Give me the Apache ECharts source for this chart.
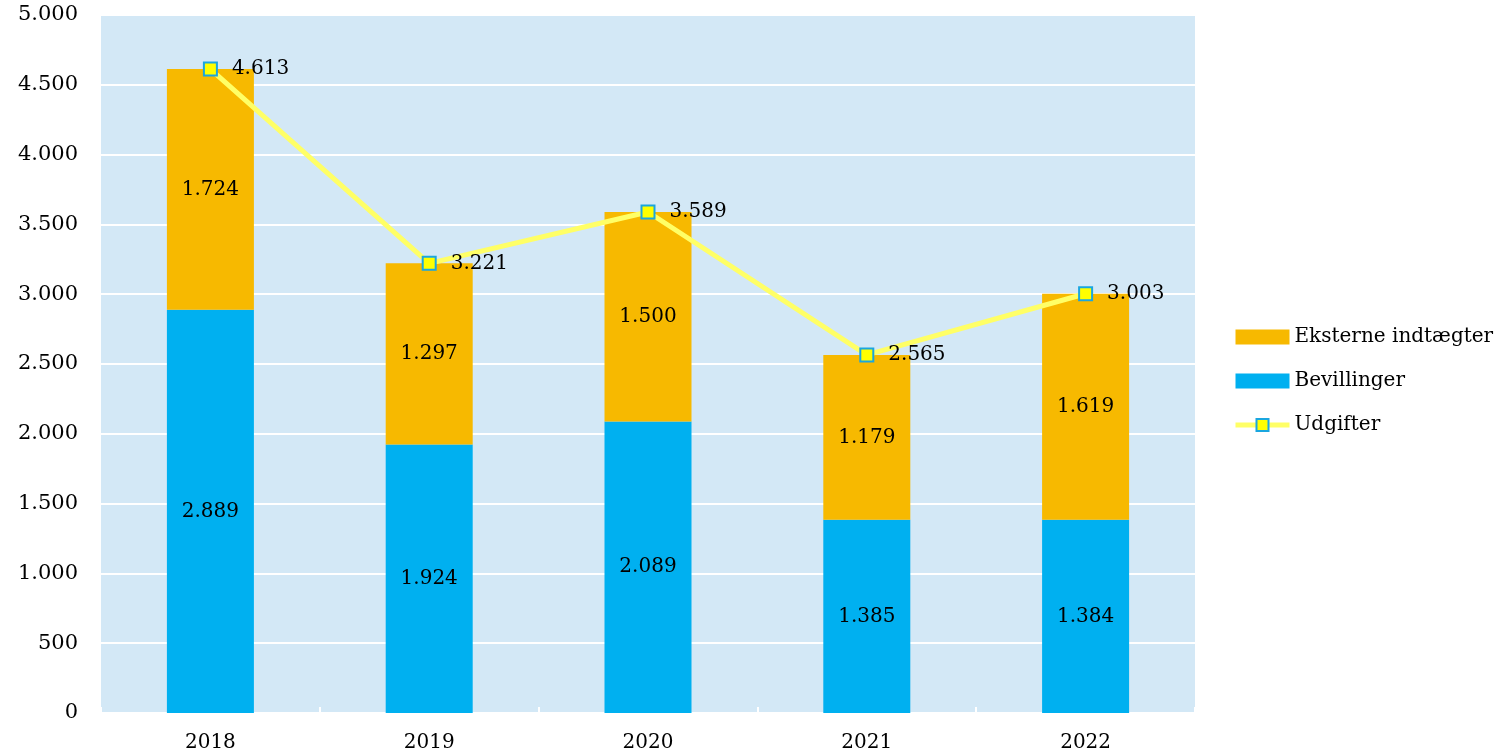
<!DOCTYPE html>
<html>
<head>
<meta charset="utf-8">
<script src="https://cdn.jsdelivr.net/npm/echarts@6/dist/echarts.min.js"></script>
<style>
  html, body { margin: 0; padding: 0; background: #fff; }
  #chart { width: 1503px; height: 753px; }
</style>
</head>
<body>
<div id="chart"></div>
<script>
  // data
  var years = ['2018', '2019', '2020', '2021', '2022'];
  var bevillinger = [2889, 1924, 2089, 1385, 1384];
  var eksterne = [1724, 1297, 1500, 1179, 1619];
  var udgifter = [4613, 3221, 3589, 2565, 3003];

  var fontFamily = '"DejaVu Serif", Georgia, serif';

  // danish thousands separator
  function fmt(v) {
    return String(v).replace(/\B(?=(\d{3})+(?!\d))/g, '.');
  }

  var chart = echarts.init(document.getElementById('chart'));

  var option = {
    animation: false,
    textStyle: { fontFamily: fontFamily, color: '#000' },
    grid: {
      left: 101, right: 308, top: 15, bottom: 40,
      show: true, backgroundColor: '#d3e8f6', borderWidth: 0
    },
    legend: {
      orient: 'vertical',
      left: 1228,
      top: 322,
      itemGap: 24,
      itemWidth: 54,
      itemHeight: 15,
      textStyle: { fontFamily: fontFamily, fontSize: 20, color: '#000' },
      data: [
        { name: 'Eksterne indtægter', icon: 'rect' },
        { name: 'Bevillinger', icon: 'rect' },
        { name: 'Udgifter', lineStyle: { width: 5, color: '#ffff66' } }
      ]
    },
    xAxis: {
      type: 'category',
      data: years,
      axisLine: { show: false },
      axisTick: { show: true, inside: true, length: 6, lineStyle: { color: '#fff', width: 2 } },
      axisLabel: { fontFamily: fontFamily, fontSize: 20, color: '#000', margin: 20 }
    },
    yAxis: {
      type: 'value',
      min: 0,
      max: 5000,
      interval: 500,
      axisLine: { show: false },
      axisTick: { show: false },
      splitLine: { lineStyle: { color: '#ffffff', width: 2 } },
      axisLabel: {
        fontFamily: fontFamily, fontSize: 21, color: '#000', margin: 23,
        formatter: function (v) { return fmt(v); }
      }
    },
    series: [
      {
        name: 'Bevillinger',
        type: 'bar',
        stack: 'total',
        barWidth: 87,
        data: bevillinger,
        itemStyle: { color: '#00b0f0' },
        label: {
          show: true, position: 'inside', color: '#000',
          fontFamily: fontFamily, fontSize: 20,
          formatter: function (p) { return fmt(p.value); }
        }
      },
      {
        name: 'Eksterne indtægter',
        type: 'bar',
        stack: 'total',
        barWidth: 87,
        data: eksterne,
        itemStyle: { color: '#f7b900' },
        label: {
          show: true, position: 'inside', color: '#000',
          fontFamily: fontFamily, fontSize: 20,
          formatter: function (p) { return fmt(p.value); }
        }
      },
      {
        name: 'Udgifter',
        type: 'line',
        data: udgifter,
        symbol: 'rect',
        symbolSize: 13,
        z: 5,
        lineStyle: { color: '#ffff66', width: 5 },
        itemStyle: { color: '#ffff00', borderColor: '#1aa6df', borderWidth: 2 },
        label: {
          show: true, position: 'right', distance: 14, color: '#000',
          fontFamily: fontFamily, fontSize: 20,
          formatter: function (p) { return fmt(p.value); }
        }
      }
    ]
  };

  chart.setOption(option);
  window.onresize = chart.resize;
</script>
</body>
</html>
